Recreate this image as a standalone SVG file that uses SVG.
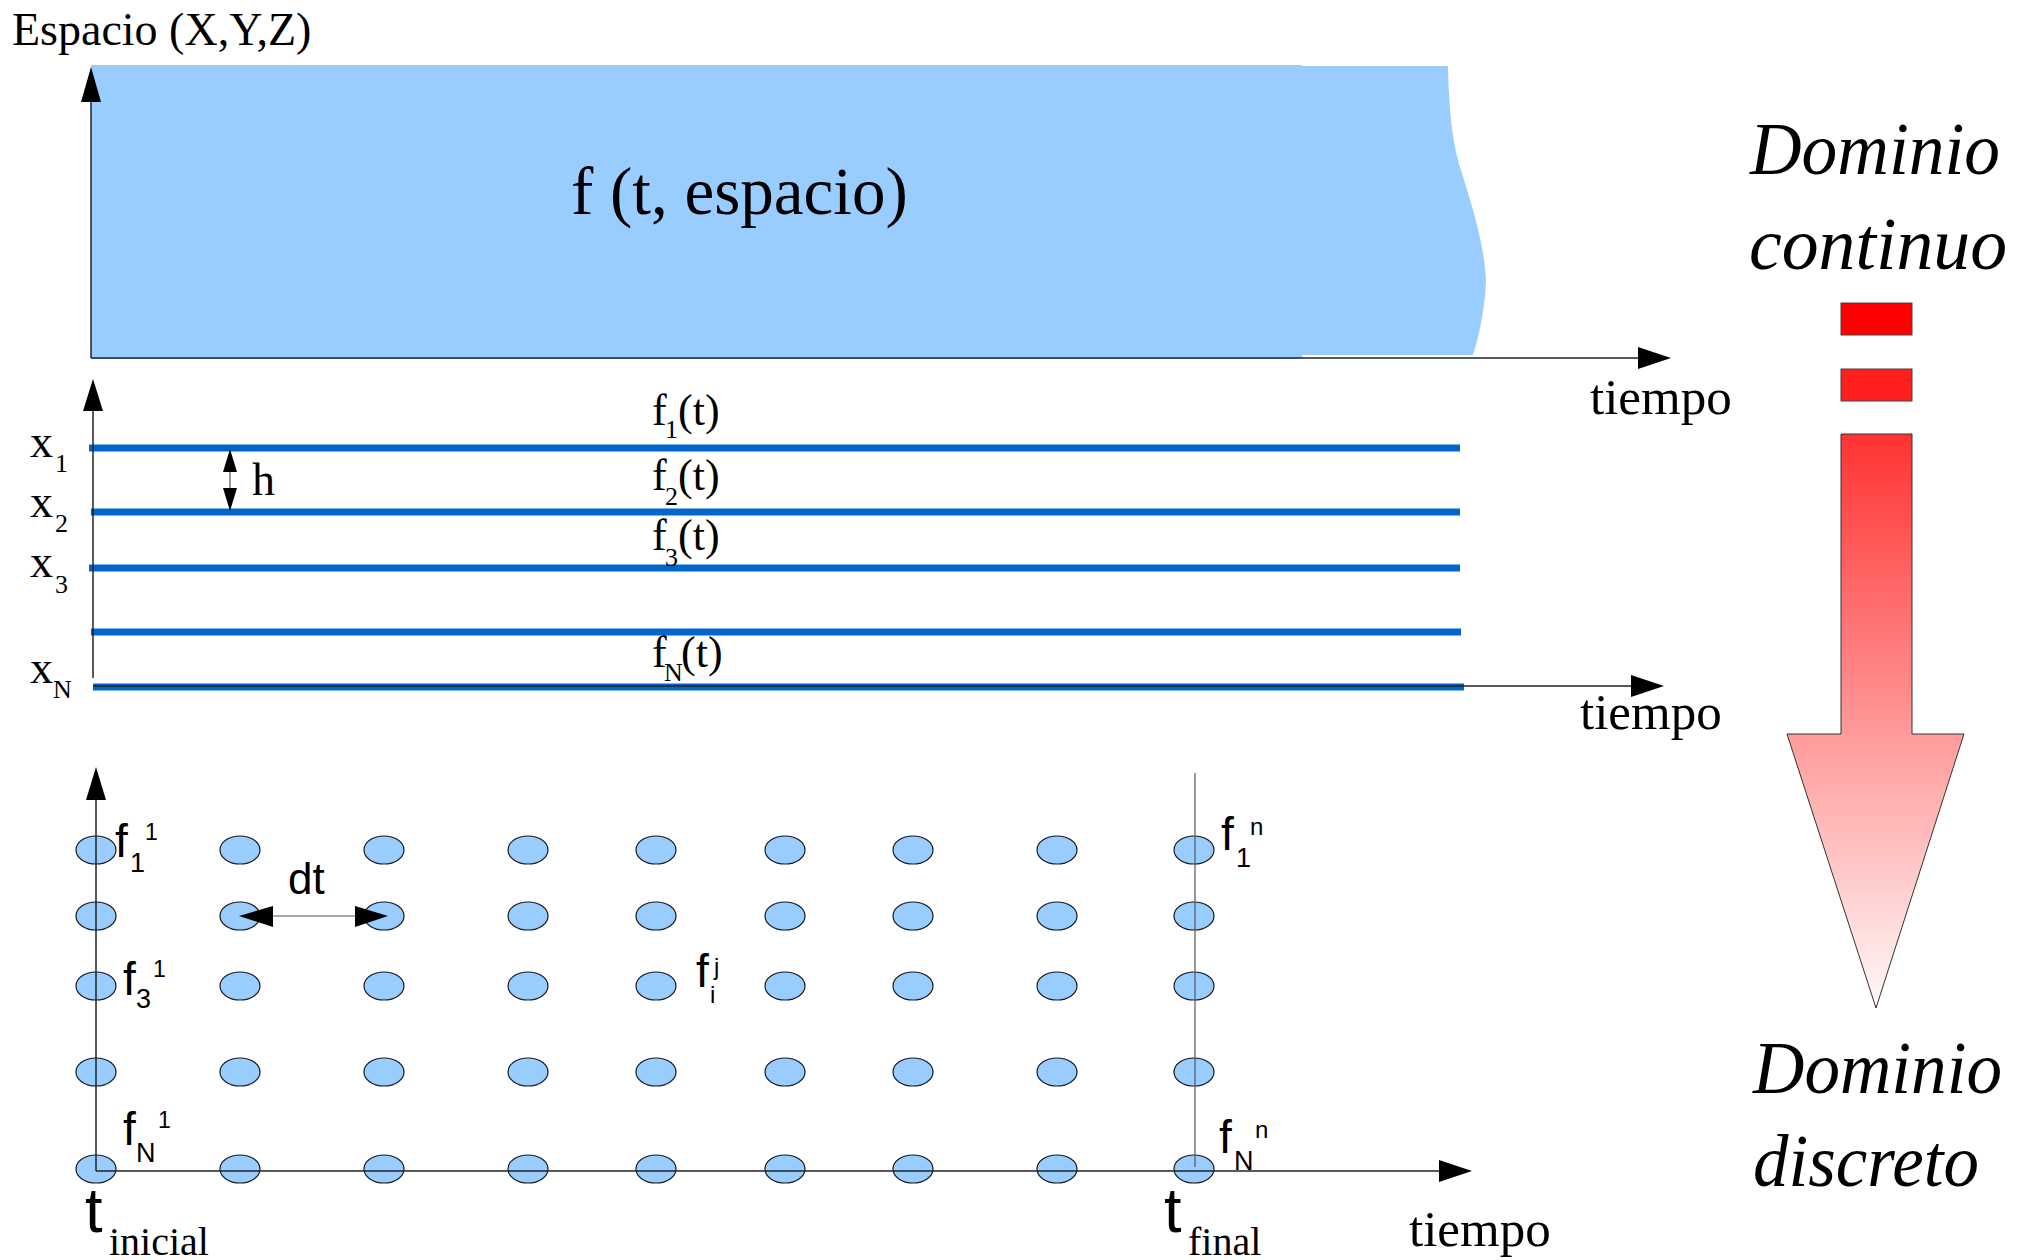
<svg xmlns="http://www.w3.org/2000/svg" width="2031" height="1260" viewBox="0 0 2031 1260">
<style>
.serif{font-family:"Liberation Serif","Times New Roman",serif;fill:#000}
.sans{font-family:"Liberation Sans",Arial,sans-serif;fill:#000}
.dom{font-family:"Liberation Serif","Times New Roman",serif;font-style:italic;font-size:75px;fill:#000}
.axis{stroke:#222;stroke-width:1.5;fill:none}
.thin{stroke:#555;stroke-width:1.2;fill:none}
.band{stroke:#0066cc;stroke-width:7;fill:none}
.dot{fill:#99ccff;stroke:#1a1a1a;stroke-width:1.2}
.head{fill:#000}
</style>
<defs>
<linearGradient id="redgrad" gradientUnits="userSpaceOnUse" x1="0" y1="434" x2="0" y2="1008">
<stop offset="0" stop-color="#ff3333"/>
<stop offset="1" stop-color="#fff8f8"/>
</linearGradient>
</defs>

<!-- Continuous domain -->
<g id="continuous-region">
<path d="M91,65 H1302 V66 H1448 C1449,110 1452,140 1460,167 C1470,200 1484,240 1486,280 C1485,310 1478,340 1473,355 H1302 V359 H91 Z" fill="#99ccff"/>
<text class="serif" x="571" y="214" font-size="67">f (t, espacio)</text>
</g>
<g id="label-espacio"><text class="serif" x="12" y="45" font-size="46">Espacio (X,Y,Z)</text></g>
<g id="label-tiempo-1"><text class="serif" x="1590" y="414" font-size="51">tiempo</text></g>

<!-- Semi-discrete lines -->
<g id="lines">
<line class="band" x1="89" y1="448" x2="1460" y2="448"/>
<line class="band" x1="91" y1="512" x2="1460" y2="512"/>
<line class="band" x1="89" y1="568" x2="1460" y2="568"/>
<line class="band" x1="91" y1="632" x2="1461" y2="632"/>
<line class="band" x1="93" y1="687" x2="1464" y2="687"/>
</g>
<g id="line-labels">
<text class="serif" font-size="44" x="652" y="425">f</text><text class="serif" font-size="26" x="665" y="438">1</text><text class="serif" font-size="44" x="678" y="425">(t)</text>
<text class="serif" font-size="44" x="652" y="490">f</text><text class="serif" font-size="26" x="665" y="505">2</text><text class="serif" font-size="44" x="678" y="490">(t)</text>
<text class="serif" font-size="44" x="652" y="550">f</text><text class="serif" font-size="26" x="665" y="566">3</text><text class="serif" font-size="44" x="678" y="550">(t)</text>
<text class="serif" font-size="44" x="652" y="667">f</text><text class="serif" font-size="26" x="664" y="681">N</text><text class="serif" font-size="44" x="681" y="667">(t)</text>
</g>
<g id="x-labels">
<text class="serif" font-size="46" x="30" y="457">x</text><text class="serif" font-size="26" x="55" y="472">1</text>
<text class="serif" font-size="46" x="30" y="517">x</text><text class="serif" font-size="26" x="55" y="532">2</text>
<text class="serif" font-size="46" x="30" y="577">x</text><text class="serif" font-size="26" x="55" y="593">3</text>
<text class="serif" font-size="46" x="30" y="683">x</text><text class="serif" font-size="26" x="53" y="698">N</text>
</g>
<g id="label-h"><text class="serif" font-size="46" x="252" y="495">h</text></g>
<g id="label-tiempo-2"><text class="serif" x="1580" y="729" font-size="51">tiempo</text></g>

<!-- Discrete grid -->
<g id="grid-points">
<ellipse class="dot" cx="96" cy="850" rx="20" ry="14"/><ellipse class="dot" cx="240" cy="850" rx="20" ry="14"/><ellipse class="dot" cx="384" cy="850" rx="20" ry="14"/><ellipse class="dot" cx="528" cy="850" rx="20" ry="14"/><ellipse class="dot" cx="656" cy="850" rx="20" ry="14"/><ellipse class="dot" cx="785" cy="850" rx="20" ry="14"/><ellipse class="dot" cx="913" cy="850" rx="20" ry="14"/><ellipse class="dot" cx="1057" cy="850" rx="20" ry="14"/><ellipse class="dot" cx="1194" cy="850" rx="20" ry="14"/>
<ellipse class="dot" cx="96" cy="916" rx="20" ry="14"/><ellipse class="dot" cx="240" cy="916" rx="20" ry="14"/><ellipse class="dot" cx="384" cy="916" rx="20" ry="14"/><ellipse class="dot" cx="528" cy="916" rx="20" ry="14"/><ellipse class="dot" cx="656" cy="916" rx="20" ry="14"/><ellipse class="dot" cx="785" cy="916" rx="20" ry="14"/><ellipse class="dot" cx="913" cy="916" rx="20" ry="14"/><ellipse class="dot" cx="1057" cy="916" rx="20" ry="14"/><ellipse class="dot" cx="1194" cy="916" rx="20" ry="14"/>
<ellipse class="dot" cx="96" cy="986" rx="20" ry="14"/><ellipse class="dot" cx="240" cy="986" rx="20" ry="14"/><ellipse class="dot" cx="384" cy="986" rx="20" ry="14"/><ellipse class="dot" cx="528" cy="986" rx="20" ry="14"/><ellipse class="dot" cx="656" cy="986" rx="20" ry="14"/><ellipse class="dot" cx="785" cy="986" rx="20" ry="14"/><ellipse class="dot" cx="913" cy="986" rx="20" ry="14"/><ellipse class="dot" cx="1057" cy="986" rx="20" ry="14"/><ellipse class="dot" cx="1194" cy="986" rx="20" ry="14"/>
<ellipse class="dot" cx="96" cy="1072" rx="20" ry="14"/><ellipse class="dot" cx="240" cy="1072" rx="20" ry="14"/><ellipse class="dot" cx="384" cy="1072" rx="20" ry="14"/><ellipse class="dot" cx="528" cy="1072" rx="20" ry="14"/><ellipse class="dot" cx="656" cy="1072" rx="20" ry="14"/><ellipse class="dot" cx="785" cy="1072" rx="20" ry="14"/><ellipse class="dot" cx="913" cy="1072" rx="20" ry="14"/><ellipse class="dot" cx="1057" cy="1072" rx="20" ry="14"/><ellipse class="dot" cx="1194" cy="1072" rx="20" ry="14"/>
<ellipse class="dot" cx="96" cy="1169" rx="20" ry="14"/><ellipse class="dot" cx="240" cy="1169" rx="20" ry="14"/><ellipse class="dot" cx="384" cy="1169" rx="20" ry="14"/><ellipse class="dot" cx="528" cy="1169" rx="20" ry="14"/><ellipse class="dot" cx="656" cy="1169" rx="20" ry="14"/><ellipse class="dot" cx="785" cy="1169" rx="20" ry="14"/><ellipse class="dot" cx="913" cy="1169" rx="20" ry="14"/><ellipse class="dot" cx="1057" cy="1169" rx="20" ry="14"/><ellipse class="dot" cx="1194" cy="1169" rx="20" ry="14"/>
</g>
<g id="grid-labels">
<text class="sans" font-size="46" x="115" y="857">f</text><text class="sans" font-size="27" x="130" y="872">1</text><text class="sans" font-size="23" x="145" y="840">1</text>
<text class="sans" font-size="46" x="123" y="995">f</text><text class="sans" font-size="27" x="136" y="1008">3</text><text class="sans" font-size="23" x="153" y="977">1</text>
<text class="sans" font-size="46" x="123" y="1145">f</text><text class="sans" font-size="27" x="136" y="1162">N</text><text class="sans" font-size="23" x="158" y="1128">1</text>
<text class="sans" font-size="46" x="696" y="987">f</text><text class="sans" font-size="24" x="710" y="1003">i</text><text class="sans" font-size="24" x="714" y="975">j</text>
<text class="sans" font-size="46" x="1221" y="850">f</text><text class="sans" font-size="27" x="1236" y="867">1</text><text class="sans" font-size="24" x="1250" y="835">n</text>
<text class="sans" font-size="46" x="1219" y="1153">f</text><text class="sans" font-size="27" x="1234" y="1170">N</text><text class="sans" font-size="24" x="1255" y="1138">n</text>
<text class="sans" font-size="44" x="288" y="894">dt</text>
</g>
<g id="label-t-inicial"><text class="sans" font-size="63" x="85" y="1232">t</text><text class="serif" font-size="40" x="109" y="1255">inicial</text></g>
<g id="label-t-final"><text class="sans" font-size="63" x="1164" y="1232">t</text><text class="serif" font-size="40" x="1188" y="1255">final</text></g>
<g id="label-tiempo-3"><text class="serif" x="1409" y="1246" font-size="51">tiempo</text></g>

<!-- Domain arrow -->
<g id="domain-arrow">
<rect x="1841" y="303" width="71" height="32" fill="#ff0000" stroke="#444" stroke-width="1"/>
<rect x="1841" y="369" width="71" height="32" fill="#ff1f1f" stroke="#444" stroke-width="1"/>
<path d="M1841,434 H1912 V734 H1964 L1876,1008 L1787,734 H1841 Z" fill="url(#redgrad)" stroke="#333" stroke-width="1"/>
</g>
<g id="label-dominio-continuo">
<text class="dom" x="1750" y="174" textLength="250" lengthAdjust="spacingAndGlyphs">Dominio</text>
<text class="dom" x="1749" y="269" textLength="258" lengthAdjust="spacingAndGlyphs">continuo</text>
</g>
<g id="label-dominio-discreto">
<text class="dom" x="1753" y="1093" textLength="249" lengthAdjust="spacingAndGlyphs">Dominio</text>
<text class="dom" x="1753" y="1186" textLength="226" lengthAdjust="spacingAndGlyphs">discreto</text>
</g>

<!-- Connectors: axes and dimension arrows -->
<g id="connectors">
<line class="axis" x1="91" y1="358" x2="91" y2="100"/>
<polygon class="head" points="91,67 81,102 101,102"/>
<line class="axis" x1="91" y1="358" x2="1640" y2="358"/>
<polygon class="head" points="1671,358 1638,347 1638,369"/>

<line class="axis" x1="93" y1="678" x2="93" y2="408"/>
<polygon class="head" points="93,379 83,411 103,411"/>
<line class="axis" x1="93" y1="686" x2="1633" y2="686"/>
<polygon class="head" points="1664,686 1631,675 1631,697"/>
<line class="thin" x1="230" y1="470" x2="230" y2="490"/>
<polygon class="head" points="230,449 223,472 237,472"/>
<polygon class="head" points="230,511 223,488 237,488"/>

<line class="axis" x1="96" y1="1171" x2="96" y2="798"/>
<polygon class="head" points="96,767 86,800 106,800"/>
<line class="axis" x1="96" y1="1171" x2="1441" y2="1171"/>
<polygon class="head" points="1472,1171 1439,1160 1439,1182"/>
<line class="thin" x1="1195" y1="773" x2="1195" y2="1167"/>
<line class="thin" x1="270" y1="916" x2="358" y2="916"/>
<polygon class="head" points="239,916 273,906 273,927"/>
<polygon class="head" points="388,916 355,906 355,927"/>
</g>
</svg>
